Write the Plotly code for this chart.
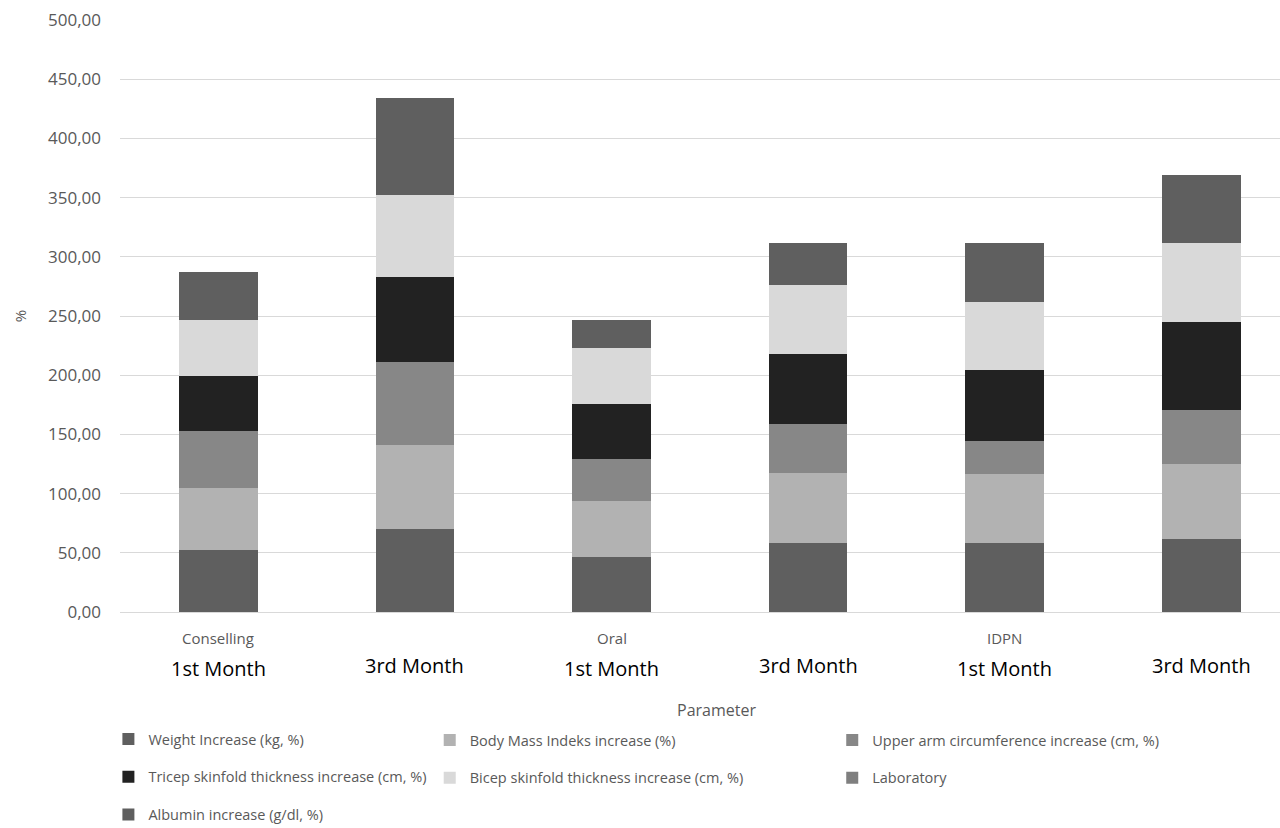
import plotly.graph_objects as go

# Categories (intervention group + follow-up period)
groups = ["Conselling", "", "Oral", "", "IDPN", ""]
periods = ["1st Month", "3rd Month", "1st Month", "3rd Month", "1st Month", "3rd Month"]
categories = ["Conselling 1st", "Conselling 3rd", "Oral 1st", "Oral 3rd", "IDPN 1st", "IDPN 3rd"]

# Stacked series values (%)
weight = [52.6, 69.8, 46.2, 58.0, 58.5, 61.4]
bmi = [52.5, 71.4, 47.8, 59.7, 57.8, 63.3]
upper_arm = [47.8, 69.9, 35.5, 40.8, 28.4, 45.9]
tricep = [46.4, 71.7, 46.2, 59.4, 59.7, 74.6]
bicep = [47.3, 69.6, 47.5, 58.3, 57.7, 66.7]
laboratory = [0, 0, 0, 0, 0, 0]
albumin = [40.6, 81.8, 23.4, 35.2, 49.3, 57.2]

y_ticks = [0, 50, 100, 150, 200, 250, 300, 350, 400, 450, 500]

FONT = "Open Sans"
GREY_TEXT = "#595959"

series = [
    ("Weight Increase (kg, %)", weight, "#5f5f5f", "legend"),
    ("Body Mass Indeks increase (%)", bmi, "#b2b2b2", "legend2"),
    ("Upper arm circumference increase (cm, %)", upper_arm, "#878787", "legend3"),
    ("Tricep skinfold thickness increase (cm, %)", tricep, "#222222", "legend"),
    ("Bicep skinfold thickness increase (cm, %)", bicep, "#d9d9d9", "legend2"),
    ("Laboratory", laboratory, "#7f7f7f", "legend3"),
    ("Albumin increase (g/dl, %)", albumin, "#5f5f5f", "legend"),
]

fig = go.Figure()
for i, (name, vals, color, leg) in enumerate(series):
    fig.add_trace(go.Bar(
        x=categories, y=vals, name=name,
        marker=dict(color=color, line=dict(width=0)),
        width=0.4, legend=leg, legendgroup=f"g{i}",
    ))

# Paper area spans the whole figure below the top margin; the value axis
# occupies its upper part and labels/legend sit underneath.
Y_DOMAIN = [0.2673, 1.0]

# Two-line category labels: group name above, period below
for cat, grp, per in zip(categories, groups, periods):
    if grp:
        fig.add_annotation(x=cat, xref="x", y=0.2351, yref="paper", text=grp,
                           showarrow=False, yanchor="middle",
                           font=dict(family=FONT, size=15, color=GREY_TEXT))
    fig.add_annotation(x=cat, xref="x", y=0.1980 if grp else 0.2017, yref="paper",
                       text=per, showarrow=False, yanchor="middle",
                       font=dict(family=FONT, size=20, color="#000000"))

# Axis titles
fig.add_annotation(x=0.514, xref="paper", y=0.1460, yref="paper", text="Parameter",
                   showarrow=False, yanchor="middle",
                   font=dict(family=FONT, size=16, color=GREY_TEXT))
fig.add_annotation(x=-0.086, xref="paper", y=0.6337, yref="paper", text="%",
                   showarrow=False, textangle=-90, xanchor="center", yanchor="middle",
                   font=dict(family=FONT, size=15, color=GREY_TEXT))

# Legend laid out in three columns anchored at their bottom edges
legend_common = dict(orientation="v", xanchor="left", yanchor="bottom",
                     bgcolor="rgba(0,0,0,0)", tracegroupgap=16,
                     font=dict(family=FONT, size=14.5, color=GREY_TEXT),
                     itemclick=False, itemdoubleclick=False)

fig.update_layout(
    width=1280, height=828,
    margin=dict(l=120, r=0, t=20, b=0, autoexpand=False),
    paper_bgcolor="white", plot_bgcolor="white",
    barmode="stack",
    separators=",.",
    showlegend=True,
    legend=dict(x=-0.01, y=-0.0037, **legend_common),
    legend2=dict(x=0.267, y=0.0421, **legend_common),
    legend3=dict(x=0.614, y=0.0421, **legend_common),
    xaxis=dict(type="category", range=[-0.5, 5.4], showticklabels=False,
               showgrid=False, zeroline=False, showline=False),
    yaxis=dict(domain=Y_DOMAIN, range=[0, 500], tickvals=y_ticks, tickformat=".2f",
               showgrid=True, gridcolor="#d9d9d9", gridwidth=1,
               zeroline=True, zerolinecolor="#d9d9d9", zerolinewidth=1,
               showline=False, ticks="", ticklabelstandoff=18,
               tickfont=dict(family=FONT, size=17, color=GREY_TEXT)),
)

fig.write_html("out.html")
